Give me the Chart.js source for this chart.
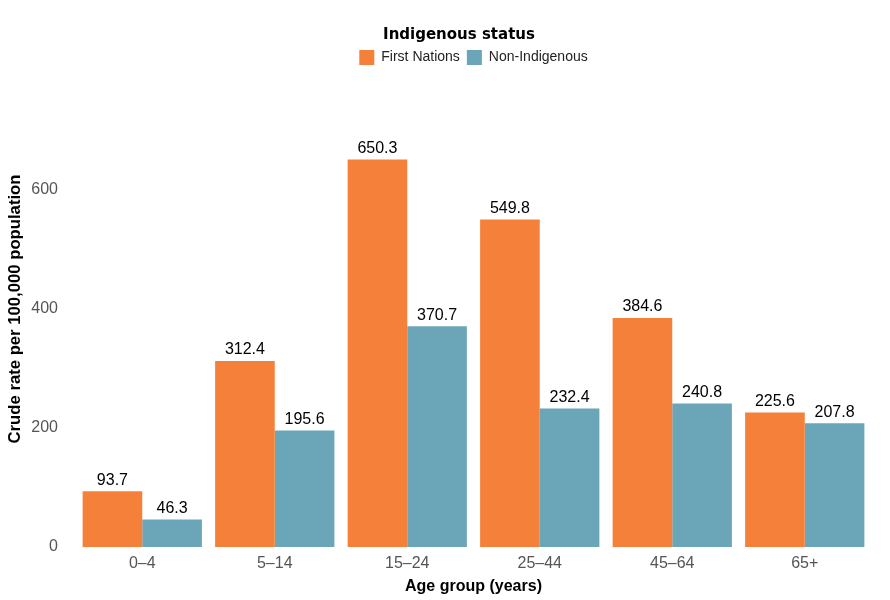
<!DOCTYPE html>
<html>
<head>
<meta charset="utf-8">
<script src="https://cdn.jsdelivr.net/npm/chart.js@4"></script>
<style>
  body { margin: 0; background: #fff; }
  #wrap { width: 890px; height: 600px; }
</style>
</head>
<body>
<div id="wrap"><canvas id="rateChart" width="890" height="600"></canvas></div>
<script>
// Crude rate per 100,000 by age group and Indigenous status
const ageGroups = ["0\u20134", "5\u201314", "15\u201324", "25\u201344", "45\u201364", "65+"];
const firstNations = [93.7, 312.4, 650.3, 549.8, 384.6, 225.6];
const nonIndigenous = [46.3, 195.6, 370.7, 232.4, 240.8, 207.8];
const yTicks = [0, 200, 400, 600];
const legendTitle = "Indigenous status";
const yTitle = "Crude rate per 100,000 population";

Chart.defaults.font.family = "'Liberation Sans', Arial, sans-serif";

// draws the value above each bar
const barLabels = {
  id: "barLabels",
  afterDatasetsDraw(chart) {
    const ctx = chart.ctx;
    ctx.save();
    ctx.font = "16px 'Liberation Sans', Arial, sans-serif";
    ctx.fillStyle = "#000";
    ctx.textAlign = "center";
    ctx.textBaseline = "bottom";
    chart.data.datasets.forEach((ds, i) => {
      chart.getDatasetMeta(i).data.forEach((bar, j) => {
        ctx.fillText(ds.data[j].toFixed(1), bar.x, bar.y - 3);
      });
    });
    ctx.restore();
  },
};

// legend title and y title are placed like the original, plus extra room below the legend
const extraText = {
  id: "extraText",
  beforeInit(chart) {
    const fit = chart.legend.fit;
    chart.legend.fit = function () {
      fit.call(this);
      this.height += 55;
    };
  },
  afterDraw(chart) {
    const ctx = chart.ctx;
    ctx.save();
    ctx.fillStyle = "#000";
    ctx.textAlign = "center";
    ctx.textBaseline = "middle";
    ctx.font = "bold 15px 'DejaVu Sans', Verdana, sans-serif";
    ctx.fillText(legendTitle, 459, 35);
    ctx.translate(15, 309);
    ctx.rotate(-Math.PI / 2);
    ctx.font = "bold 16.7px 'Liberation Sans', Arial, sans-serif";
    ctx.fillText(yTitle, 0, 0);
    ctx.restore();
  },
};

const ctx = document.getElementById("rateChart").getContext("2d");
const rateChart = new Chart(ctx, {
  type: "bar",
  data: {
    labels: ageGroups,
    datasets: [
      {
        label: "First Nations",
        data: firstNations,
        backgroundColor: "#F5803A",
      },
      {
        label: "Non-Indigenous",
        data: nonIndigenous,
        backgroundColor: "#6AA5B8",
      },
    ],
  },
  options: {
    responsive: false,
    animation: false,
    layout: { padding: { top: 43, right: 19, left: 0, bottom: 0 } },
    datasets: {
      bar: { categoryPercentage: 0.9, barPercentage: 1.0 },
    },
    plugins: {
      legend: {
        position: "top",
        fullSize: false,
        labels: {
          color: "#222",
          font: { size: 14 },
          boxWidth: 15,
          boxHeight: 15,
          padding: 7,
        },
      },
      tooltip: { enabled: false },
    },
    scales: {
      x: {
        afterFit(axis) {
          axis.height = 53;
        },
        grid: { display: false, drawTicks: false },
        border: { display: false },
        ticks: { color: "#555", font: { size: 16 }, padding: 7 },
        title: {
          display: true,
          text: "Age group (years)",
          color: "#000",
          font: { size: 16, weight: "bold" },
          padding: { top: 0, bottom: 4 },
        },
      },
      y: {
        min: 0,
        max: 700,
        afterBuildTicks(axis) {
          axis.ticks = yTicks.map((v) => ({ value: v }));
        },
        afterFit(axis) {
          axis.width = 76;
        },
        grid: { display: false, drawTicks: false },
        border: { display: false },
        ticks: { color: "#555", font: { size: 16 }, padding: 18 },
      },
    },
  },
  plugins: [barLabels, extraText],
});
</script>
</body>
</html>
